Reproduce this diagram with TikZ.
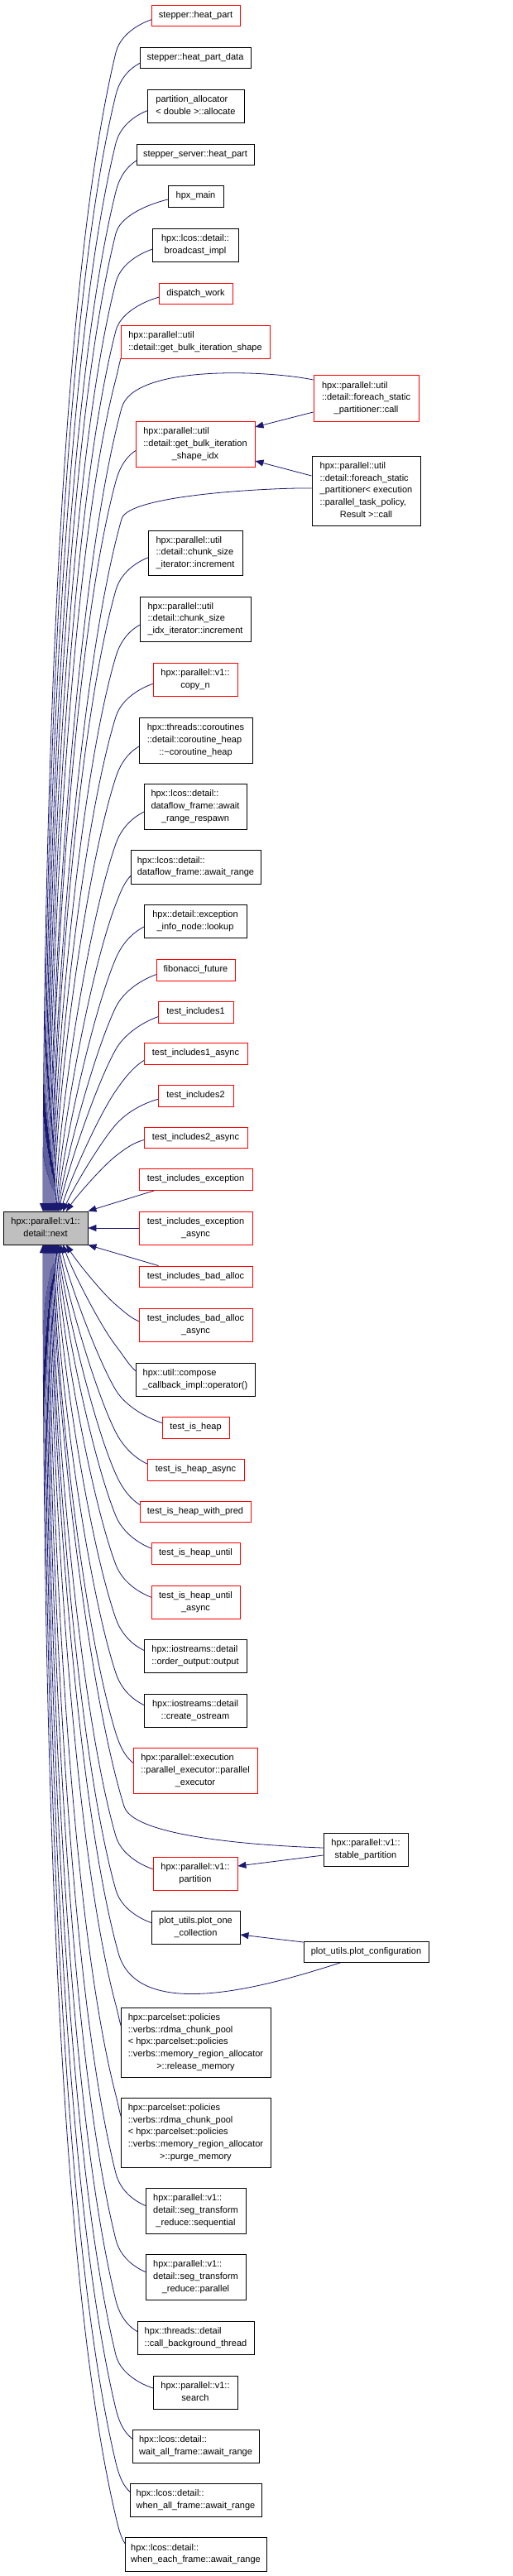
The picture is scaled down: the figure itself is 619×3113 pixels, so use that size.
\documentclass[tikz,border=0pt]{standalone}
\usepackage{fontspec}
\setmainfont{Liberation Sans}
\usetikzlibrary{arrows.meta,calc}
\definecolor{edgec}{HTML}{191970}
\definecolor{redc}{HTML}{FF0000}
\definecolor{mainfill}{HTML}{BFBFBF}
\pgfdeclarelayer{bg}
\pgfsetlayers{bg,main}
\newcommand\mlt[2]{\begin{tabular}{@{}l@{}}#1\\\multicolumn{1}{@{}c@{}}{#2}\end{tabular}}
\newcommand\mct[1]{\begin{tabular}{@{}c@{}}#1\end{tabular}}
\newcommand\mknode[7]{\node[#2, minimum width=#5pt, minimum height=#6pt] (#1) at (#3,-#4) {#7};}
% #1 kx, #2 ky, #3 xe, #4 ye (px, down positive), #5 sign (1 above, -1 below), #6 first control length
\newcommand\EGset[6]{%
  \pgfmathsetmacro\EGch{atan2(#2-#4,#3-#1)}%
  \ifnum#5=1
    \pgfmathsetmacro\EGoa{\EGch-10}%
    \pgfmathsetmacro\EGib{min(90,\EGch+188)}%
  \else
    \pgfmathsetmacro\EGoa{\EGch+10}%
    \pgfmathsetmacro\EGib{max(270,\EGch+172)}%
  \fi
  \pgfmathsetmacro\EGia{\EGoa+180}%
  \pgfmathsetmacro\EGd{100*veclen((#3-#1)/100,(#2-#4)/100)}%
  \pgfmathsetmacro\EGl{0.235*\EGd}%
  \pgfmathsetmacro\EGax{#1+\EGl*cos(\EGoa)}%
  \pgfmathsetmacro\EGay{-#2+\EGl*sin(\EGoa)}%
  \pgfmathsetmacro\EGbx{#3+\EGl*cos(\EGib)}%
  \pgfmathsetmacro\EGby{-#4+\EGl*sin(\EGib)}%
  \pgfmathsetmacro\EGcx{#1+#6*cos(\EGia)}%
  \pgfmathsetmacro\EGcy{-#2+#6*sin(\EGia)}%
}
\newcommand\eup[3]{%
  \pgfmathsetmacro\EGky{#2+min(45,0.25*(1464-#2))}%
  \EGset{140}{\EGky}{#3}{1464}{1}{28}%
  \draw[edge] ([xshift=30pt]#1.west) .. controls +(-30,0) and (\EGcx,\EGcy) .. (140,-\EGky) .. controls (\EGax,\EGay) and (\EGbx,\EGby) .. (#3,-1464);%
}
\newcommand\edn[3]{%
  \pgfmathsetmacro\EGky{#2-min(45,0.25*(#2-1504))}%
  \EGset{140}{\EGky}{#3}{1504}{-1}{28}%
  \draw[edge] ([xshift=30pt]#1.west) .. controls +(-30,0) and (\EGcx,\EGcy) .. (140,-\EGky) .. controls (\EGax,\EGay) and (\EGbx,\EGby) .. (#3,-1504);%
}
\tikzset{
  box/.style={draw, line width=0.9pt, fill=white, inner sep=0pt, font=\fontsize{11}{14.7}\selectfont},
  bb/.style={box, draw=black},
  br/.style={box, draw=redc},
  bm/.style={box, draw=black, fill=mainfill},
  edge/.style={draw=edgec, line width=0.8pt, -{Triangle[length=10pt,width=8pt]}}
}
\begin{document}
\begin{tikzpicture}[x=1pt,y=1pt]
\useasboundingbox (0,0) rectangle (619,-3113);
\mknode{n1}{br}{236.5}{18.5}{107}{25}{stepper::heat\_part}
\mknode{n2}{bb}{236}{69.5}{134}{25}{stepper::heat\_part\_data}
\mknode{n3}{bb}{236.5}{128}{117}{40}{\mlt{partition\_allocator}{< double >::allocate}}
\mknode{n4}{bb}{236}{186.5}{142}{25}{stepper\_server::heat\_part}
\mknode{n5}{bb}{236.5}{237}{67}{26}{hpx\_main}
\mknode{n6}{bb}{236}{296}{104}{40}{\mct{hpx::lcos::detail::\\broadcast\_impl}}
\mknode{n7}{br}{236.5}{354.5}{89}{25}{dispatch\_work}
\mknode{n8}{br}{236}{413}{180}{40}{\mlt{hpx::parallel::util}{::detail::get\_bulk\_iteration\_shape}}
\mknode{f1}{br}{442.5}{481}{127}{56}{\mlt{hpx::parallel::util\\::detail::foreach\_static}{\_partitioner::call}}
\mknode{n10}{br}{236}{536.5}{144}{55}{\mlt{hpx::parallel::util\\::detail::get\_bulk\_iteration}{\_shape\_idx}}
\mknode{f2}{bb}{442.5}{593}{131}{84}{\mlt{hpx::parallel::util\\::detail::foreach\_static\\\_partitioner< execution\\::parallel\_task\_policy,}{Result >::call}}
\mknode{n12}{bb}{236}{668}{114}{54}{\mlt{hpx::parallel::util\\::detail::chunk\_size}{\_iterator::increment}}
\mknode{n13}{bb}{236}{748}{134}{54}{\mlt{hpx::parallel::util\\::detail::chunk\_size}{\_idx\_iterator::increment}}
\mknode{n14}{br}{236}{821}{102}{40}{\mct{hpx::parallel::v1::\\copy\_n}}
\mknode{n15}{bb}{236.5}{894.5}{137}{55}{\mlt{hpx::threads::coroutines\\::detail::coroutine\_heap}{::\textasciitilde coroutine\_heap}}
\mknode{n16}{bb}{236}{974.5}{124}{55}{\mlt{hpx::lcos::detail::\\dataflow\_frame::await}{\_range\_respawn}}
\mknode{n17}{bb}{236.5}{1047.5}{157}{41}{\mlt{hpx::lcos::detail::}{dataflow\_frame::await\_range}}
\mknode{n18}{bb}{236}{1113}{124}{40}{\mlt{hpx::detail::exception}{\_info\_node::lookup}}
\mknode{n19}{br}{236.5}{1172}{95}{26}{fibonacci\_future}
\mknode{n20}{br}{236.5}{1223}{91}{26}{test\_includes1}
\mknode{n21}{br}{236.5}{1273}{125}{26}{test\_includes1\_async}
\mknode{n22}{br}{236.5}{1324}{91}{26}{test\_includes2}
\mknode{n23}{br}{236.5}{1374.5}{125}{25}{test\_includes2\_async}
\mknode{n24}{br}{236.5}{1425}{137}{26}{test\_includes\_exception}
\mknode{n25}{br}{236.5}{1484}{137}{40}{\mlt{test\_includes\_exception}{\_async}}
\mknode{main}{bm}{55}{1484}{102}{40}{\mct{hpx::parallel::v1::\\detail::next}}
\mknode{n26}{br}{236.5}{1542.5}{137}{25}{test\_includes\_bad\_alloc}
\mknode{n27}{br}{236.5}{1601}{137}{40}{\mlt{test\_includes\_bad\_alloc}{\_async}}
\mknode{n28}{bb}{236}{1667}{144}{40}{\mlt{hpx::util::compose}{\_callback\_impl::operator()}}
\mknode{n29}{br}{236.5}{1725}{81}{26}{test\_is\_heap}
\mknode{n30}{br}{236.5}{1776}{117}{26}{test\_is\_heap\_async}
\mknode{n31}{br}{236}{1826.5}{134}{25}{test\_is\_heap\_with\_pred}
\mknode{n32}{br}{236.5}{1877}{107}{26}{test\_is\_heap\_until}
\mknode{n33}{br}{236.5}{1936}{107}{40}{\mlt{test\_is\_heap\_until}{\_async}}
\mknode{n34}{bb}{236}{2001}{124}{40}{\mlt{hpx::iostreams::detail}{::order\_output::output}}
\mknode{n35}{bb}{236}{2067}{124}{40}{\mlt{hpx::iostreams::detail}{::create\_ostream}}
\mknode{n36}{br}{236}{2139.5}{150}{55}{\mlt{hpx::parallel::execution\\::parallel\_executor::parallel}{\_executor}}
\mknode{sp}{bb}{442}{2235}{102}{40}{\mct{hpx::parallel::v1::\\stable\_partition}}
\mknode{n38}{br}{236}{2264}{102}{40}{\mct{hpx::parallel::v1::\\partition}}
\mknode{n39}{bb}{236.5}{2329}{107}{40}{\mlt{plot\_utils.plot\_one}{\_collection}}
\mknode{pc}{bb}{442.5}{2358.5}{151}{25}{plot\_utils.plot\_configuration}
\mknode{n41}{bb}{236.5}{2468}{181}{84}{\mlt{hpx::parcelset::policies\\::verbs::rdma\_chunk\_pool\\< hpx::parcelset::policies\\::verbs::memory\_region\_allocator}{>::release\_memory}}
\mknode{n42}{bb}{236.5}{2577}{181}{84}{\mlt{hpx::parcelset::policies\\::verbs::rdma\_chunk\_pool\\< hpx::parcelset::policies\\::verbs::memory\_region\_allocator}{>::purge\_memory}}
\mknode{n43}{bb}{236.5}{2671.5}{121}{55}{\mlt{hpx::parallel::v1::\\detail::seg\_transform}{\_reduce::sequential}}
\mknode{n44}{bb}{236.5}{2751.5}{121}{55}{\mlt{hpx::parallel::v1::\\detail::seg\_transform}{\_reduce::parallel}}
\mknode{n45}{bb}{236.5}{2825}{141}{40}{\mlt{hpx::threads::detail}{::call\_background\_thread}}
\mknode{n46}{bb}{236}{2891}{102}{40}{\mct{hpx::parallel::v1::\\search}}
\mknode{n47}{bb}{236.5}{2956}{153}{40}{\mlt{hpx::lcos::detail::}{wait\_all\_frame::await\_range}}
\mknode{n48}{bb}{236.5}{3021}{159}{40}{\mlt{hpx::lcos::detail::}{when\_all\_frame::await\_range}}
\mknode{n49}{bb}{236.5}{3086.5}{171}{41}{\mlt{hpx::lcos::detail::}{when\_each\_frame::await\_range}}
\begin{pgfonlayer}{bg}
\eup{n1}{18.5}{52}
\eup{n2}{69.5}{53}
\eup{n3}{128}{54}
\eup{n4}{186.5}{55}
\eup{n5}{237}{56}
\eup{n6}{296}{57}
\eup{n7}{354.5}{58}
\eup{n8}{413}{59}
\EGset{147}{493}{60}{1464}{1}{55}
\draw[edge] ([yshift=22pt]f1.west) .. controls (325.2,-447.6) and (\EGcx,\EGcy) .. (147,-493) .. controls (\EGax,\EGay) and (\EGbx,\EGby) .. (60,-1464);
\eup{n10}{536.5}{61}
\EGset{147}{627}{62}{1464}{1}{32}
\draw[edge] ([yshift=3pt]f2.west) .. controls (345,-589) and (\EGcx,\EGcy) .. (147,-627) .. controls (\EGax,\EGay) and (\EGbx,\EGby) .. (62,-1464);
\eup{n12}{668}{63}
\eup{n13}{748}{64}
\eup{n14}{821}{65}
\eup{n15}{894.5}{66}
\eup{n16}{974.5}{67}
\eup{n17}{1047.5}{68}
\eup{n18}{1113}{69}
\eup{n19}{1172}{70}
\eup{n20}{1223}{71}
\eup{n21}{1273}{73}
\eup{n22}{1324}{76}
\eup{n23}{1374.5}{80}
\draw[edge] ([xshift=20pt]n24.south west) -- (main.north east);
\draw[edge] (n25.west) -- (main.east);
\draw[edge] ([xshift=24pt]n26.north west) -- (main.south east);
\edn{n27}{1601}{80}
\edn{n28}{1667}{76}
\edn{n29}{1725}{73}
\edn{n30}{1776}{71}
\edn{n31}{1826.5}{70}
\edn{n32}{1877}{69}
\edn{n33}{1936}{68}
\edn{n34}{2001}{67}
\edn{n35}{2067}{66}
\edn{n36}{2139.5}{65}
\EGset{150}{2183}{64}{1504}{-1}{43}
\draw[edge] ([yshift=2pt]sp.west) .. controls (348,-2231.5) and (\EGcx,\EGcy) .. (150,-2183) .. controls (\EGax,\EGay) and (\EGbx,\EGby) .. (64,-1504);
\edn{n38}{2264}{63}
\edn{n39}{2329}{62}
\EGset{143}{2360}{61}{1504}{-1}{90}
\draw[edge] ([xshift=46pt]pc.south west) .. controls (327.4,-2398.8) and (\EGcx,\EGcy) .. (143,-2360) .. controls (\EGax,\EGay) and (\EGbx,\EGby) .. (61,-1504);
\edn{n41}{2468}{60}
\edn{n42}{2577}{59}
\edn{n43}{2671.5}{58}
\edn{n44}{2751.5}{57}
\edn{n45}{2825}{56}
\edn{n46}{2891}{55}
\edn{n47}{2956}{54}
\edn{n48}{3021}{53}
\edn{n49}{3086.5}{52}
\draw[edge] ([yshift=-17pt]f1.west) -- ([yshift=20.5pt]n10.east);
\draw[edge] ([yshift=18pt]f2.west) -- ([yshift=-20.5pt]n10.east);
\draw[edge] ([yshift=-7pt]sp.west) -- ([yshift=9pt]n38.east);
\draw[edge] ([yshift=11.5pt]pc.west) -- ([yshift=-9pt]n39.east);
\end{pgfonlayer}
\end{tikzpicture}
\end{document}
